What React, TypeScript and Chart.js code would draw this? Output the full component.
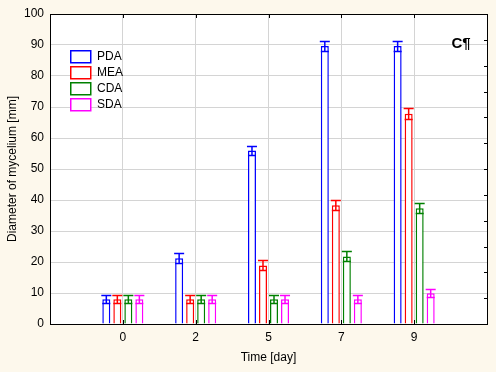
import React, { useEffect, useRef } from "react";
import { Chart, registerables } from "chart.js";

Chart.register(...registerables);

const categories = ["", "0", "2", "5", "7", "9", ""];
const seriesNames = ["PDA", "MEA", "CDA", "SDA"];
const seriesColors = ["#0000ff", "#ff0000", "#008000", "#ff00ff"];
const pdaValues = [null, 8, 21.2, 56, 89.7, 89.7, null];
const meaValues = [null, 8, 8, 18.9, 38.3, 67.8, null];
const cdaValues = [null, 8, 8, 8, 21.8, 37.3, null];
const sdaValues = [null, 8, 8, 8, 8, 9.9, null];
const pdaErrors = [null, 1.3, 1.6, 1.5, 1.5, 1.5, null];
const meaErrors = [null, 1.3, 1.3, 1.6, 1.6, 1.8, null];
const cdaErrors = [null, 1.3, 1.3, 1.3, 1.6, 1.6, null];
const sdaErrors = [null, 1.3, 1.3, 1.3, 1.3, 1.3, null];
const yTicks = [0, 10, 20, 30, 40, 50, 60, 70, 80, 90, 100];
const rightTickCount = 12;
const panelLabel = "C¶";
const xTitle = "Time [day]";
const yTitle = "Diameter of mycelium [mm]";

const seriesValues = [pdaValues, meaValues, cdaValues, sdaValues];
const seriesErrors = [pdaErrors, meaErrors, cdaErrors, sdaErrors];

const FONT = "Arial, 'Liberation Sans', sans-serif";

const framePlugin = {
  id: "frame",
  beforeDraw(chart: any) {
    const { ctx, chartArea: a } = chart;
    ctx.save();
    ctx.fillStyle = "#fdf8ec";
    ctx.fillRect(0, 0, chart.width, chart.height);
    ctx.fillStyle = "#ffffff";
    ctx.fillRect(a.left, a.top, a.right - a.left, a.bottom - a.top);
    ctx.restore();
  },
  afterDatasetsDraw(chart: any) {
    const { ctx } = chart;
    const yScale = chart.scales.y;
    ctx.save();
    ctx.lineWidth = 1.5;
    chart.data.datasets.forEach((ds: any, i: number) => {
      const meta = chart.getDatasetMeta(i);
      const errs = seriesErrors[i];
      meta.data.forEach((el: any, j: number) => {
        const v = ds.data[j];
        const e = errs[j];
        if (v == null || e == null) return;
        const x = el.x;
        const w = el.width;
        const yT = Math.round(yScale.getPixelForValue(v + e)) + 0.5;
        const yL = Math.round(yScale.getPixelForValue(v - e)) + 0.5;
        ctx.strokeStyle = seriesColors[i];
        ctx.beginPath();
        ctx.moveTo(x, yT);
        ctx.lineTo(x, yL);
        ctx.moveTo(x - w / 2 - 1, yT);
        ctx.lineTo(x + w / 2 + 1, yT);
        ctx.moveTo(x - w / 2, yL);
        ctx.lineTo(x + w / 2, yL);
        ctx.stroke();
      });
    });
    ctx.restore();
  },
  afterDraw(chart: any) {
    const { ctx, chartArea: a } = chart;
    const yScale = chart.scales.y;
    const xScale = chart.scales.x;
    ctx.save();
    ctx.strokeStyle = "#000000";
    ctx.lineWidth = 1;
    ctx.beginPath();
    ctx.moveTo(a.left, a.top + 0.5);
    ctx.lineTo(a.right + 0.5, a.top + 0.5);
    ctx.moveTo(a.right + 0.5, a.top);
    ctx.lineTo(a.right + 0.5, a.bottom + 0.5);
    for (let i = 1; i < categories.length - 1; i++) {
      const px = Math.round(xScale.getPixelForValue(i)) + 0.5;
      ctx.moveTo(px, a.top);
      ctx.lineTo(px, a.top + 4);
      ctx.moveTo(px, a.bottom);
      ctx.lineTo(px, a.bottom - 4);
    }
    const max = yTicks[yTicks.length - 1];
    for (let k = 1; k < rightTickCount; k++) {
      const py = Math.round(yScale.getPixelForValue((k * max) / rightTickCount)) + 0.5;
      ctx.moveTo(a.right, py);
      ctx.lineTo(a.right - 3, py);
    }
    ctx.stroke();

    ctx.font = `12px ${FONT}`;
    ctx.textBaseline = "middle";
    ctx.textAlign = "left";
    seriesNames.forEach((name, i) => {
      const bx = 70;
      const by = 50 + i * 16;
      ctx.lineWidth = 1.5;
      ctx.strokeStyle = seriesColors[i];
      ctx.fillStyle = "#ffffff";
      ctx.fillRect(bx, by, 21, 13);
      ctx.strokeRect(bx + 0.75, by + 0.75, 20, 12);
      ctx.fillStyle = "#000000";
      ctx.fillText(name, 97, by + 7);
    });

    ctx.font = `bold 15px ${FONT}`;
    ctx.textAlign = "center";
    ctx.textBaseline = "alphabetic";
    ctx.fillStyle = "#000000";
    ctx.fillText(panelLabel, 461, 48);
    ctx.restore();
  },
};

export default function App() {
  const ref = useRef<HTMLCanvasElement | null>(null);
  useEffect(() => {
    document.body.style.margin = "0";
    const canvas = ref.current!;
    const chart = new Chart(canvas, {
      type: "bar",
      data: {
        labels: categories,
        datasets: seriesNames.map((name, i) => ({
          label: name,
          data: seriesValues[i] as any,
          backgroundColor: "#ffffff",
          borderColor: seriesColors[i],
          borderWidth: 1.5,
          categoryPercentage: 0.605,
          barPercentage: 0.727,
        })),
      },
      options: {
        animation: false,
        responsive: false,
        devicePixelRatio: 1,
        layout: { padding: { top: 14, right: 9, left: 0, bottom: 0 } },
        plugins: { legend: { display: false }, tooltip: { enabled: false } },
        scales: {
          x: {
            type: "category",
            offset: false,
            grid: { offset: false, color: "#d4d4d4", lineWidth: 1, drawTicks: false },
            border: { color: "#000000", width: 1 },
            ticks: {
              autoSkip: false,
              maxRotation: 0,
              padding: 6,
              color: "#000000",
              font: { family: FONT, size: 12 },
            },
            title: {
              display: true,
              text: xTitle,
              color: "#000000",
              font: { family: FONT, size: 12 },
              padding: { top: 0, bottom: 7 },
            },
            afterFit: (s: any) => {
              s.height = 48;
            },
          },
          y: {
            min: 0,
            max: 100,
            afterBuildTicks: (s: any) => {
              s.ticks = yTicks.map((v) => ({ value: v }));
            },
            grid: { color: "#d4d4d4", lineWidth: 1, drawTicks: false },
            border: { color: "#000000", width: 1 },
            ticks: {
              padding: 6,
              color: "#000000",
              font: { family: FONT, size: 12 },
            },
            title: {
              display: true,
              text: yTitle,
              color: "#000000",
              font: { family: FONT, size: 12 },
              padding: { top: 5, bottom: 0 },
            },
            afterFit: (s: any) => {
              s.width = 50;
            },
          },
        },
      },
      plugins: [framePlugin],
    } as any);
    return () => chart.destroy();
  }, []);
  return (
    <div style={{ width: 496, height: 372 }}>
      <canvas ref={ref} width={496} height={372} style={{ display: "block" }} />
    </div>
  );
}
